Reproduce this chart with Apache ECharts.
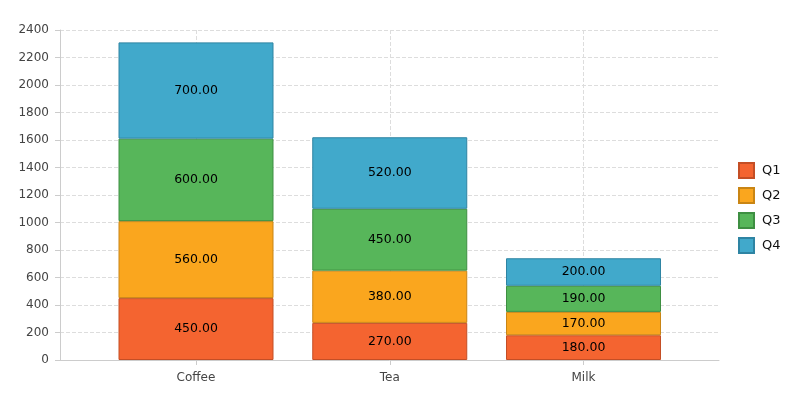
<!DOCTYPE html>
<html><head><meta charset="utf-8">
<script src="https://cdn.jsdelivr.net/npm/echarts@6/dist/echarts.min.js"></script>
<style>html,body{margin:0;padding:0;background:#fff}#c{width:800px;height:400px}</style>
</head><body><div id="c"></div>
<script>
const categories = ['Coffee', 'Tea', 'Milk'];
const q1 = [450, 270, 180];
const q2 = [560, 380, 170];
const q3 = [600, 450, 190];
const q4 = [700, 520, 200];
const seriesNames = ['Q1', 'Q2', 'Q3', 'Q4'];
const yTicks = {min: 0, max: 2400, interval: 200};

const colors = ['#F46430', '#FAA61E', '#57B65A', '#41A9CB'];
const borders = ['#C44E25', '#C98514', '#3E8F42', '#2E84A3'];
const font = 'DejaVu Sans, Verdana, sans-serif';
const data = [q1, q2, q3, q4];

const chart = echarts.init(document.getElementById('c'), null, {renderer: 'canvas'});
chart.setOption({
  animation: false,
  textStyle: {fontFamily: font},
  grid: [
    {left: 60, right: 81, top: 30, bottom: 40},
    {left: 196, right: 216.5, top: 30, bottom: 40}
  ],
  legend: {
    orient: 'vertical', left: 733, top: 157,
    icon: 'rect', itemWidth: 15, itemHeight: 15, itemGap: 8,
    textStyle: {fontFamily: font, fontSize: 13, color: '#111', padding: [0, 0, 0, 3]},
    data: seriesNames
  },
  xAxis: [
    {type: 'value', gridIndex: 0, min: 0, max: 1,
     axisLine: {show: true, onZero: false, lineStyle: {color: '#ccc'}},
     axisTick: {show: false}, axisLabel: {show: false}, splitLine: {show: false}},
    {type: 'category', gridIndex: 1, data: categories, boundaryGap: false,
     axisLine: {show: false},
     axisTick: {show: true, length: 5, lineStyle: {color: '#ccc'}},
     axisLabel: {color: '#444', fontSize: 12, fontFamily: font, margin: 12},
     splitLine: {show: true, lineStyle: {type: [4, 2], color: '#ddd'}}}
  ],
  yAxis: [
    {type: 'value', gridIndex: 0, min: yTicks.min, max: yTicks.max, interval: yTicks.interval,
     axisLine: {show: true, lineStyle: {color: '#ccc'}},
     axisTick: {show: true, length: 5, lineStyle: {color: '#ccc'}},
     axisLabel: {color: '#444', fontSize: 12, fontFamily: font, margin: 11, formatter: v => String(v)},
     splitLine: {show: true, lineStyle: {type: [4, 2], color: '#ddd'}}},
    {type: 'value', gridIndex: 1, min: yTicks.min, max: yTicks.max, interval: yTicks.interval,
     show: false, splitLine: {show: false}}
  ],
  series: seriesNames.map((n, i) => ({
    name: n, type: 'bar', stack: 'total', xAxisIndex: 1, yAxisIndex: 1,
    data: data[i], barWidth: 155, clip: false,
    itemStyle: {color: colors[i], borderColor: borders[i], borderWidth: 1},
    label: {show: true, position: 'inside', color: '#000', fontSize: 12.5, fontFamily: font,
            formatter: p => p.value.toFixed(2)}
  }))
});
</script></body></html>
